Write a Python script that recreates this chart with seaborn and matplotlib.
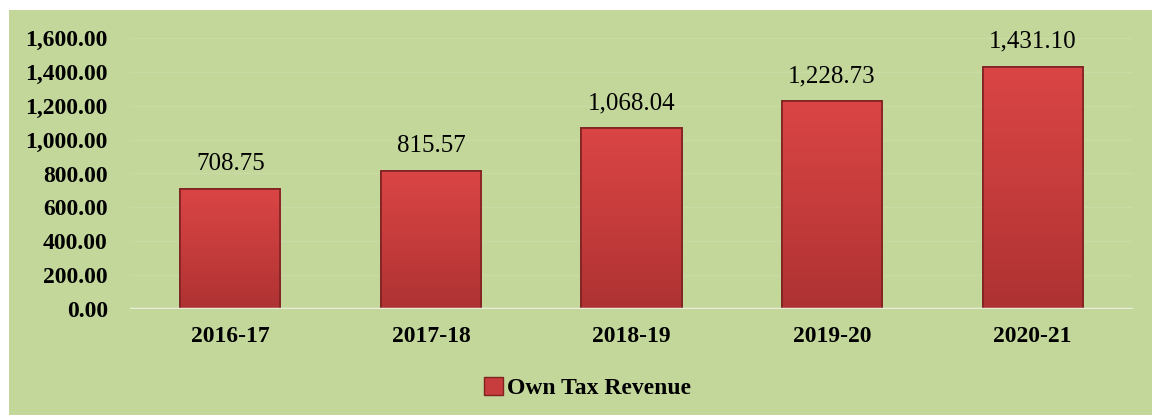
import matplotlib
matplotlib.use('Agg')
import matplotlib.pyplot as plt
import matplotlib.patches as mpatches
import numpy as np
import pandas as pd
import seaborn as sns
from matplotlib.colors import LinearSegmentedColormap

years = ['2016-17', '2017-18', '2018-19', '2019-20', '2020-21']
own_tax_revenue = [708.75, 815.57, 1068.04, 1228.73, 1431.10]
y_ticks = [0, 200, 400, 600, 800, 1000, 1200, 1400, 1600]

green = '#C4D79B'
bar_red = '#C73C3C'

sns.set_style('white')
plt.rcParams['font.family'] = ['Liberation Serif', 'DejaVu Serif']
plt.rcParams['text.color'] = 'black'
plt.rcParams['xtick.color'] = 'black'
plt.rcParams['ytick.color'] = 'black'

df = pd.DataFrame({'year': years, 'value': own_tax_revenue})

fig = plt.figure(figsize=(11.52, 4.15), dpi=100, facecolor='white')
# green chart area under a thin white strip at the top
fig.patches.append(mpatches.Rectangle((9 / 1152, 0), 1, 405 / 415, transform=fig.transFigure,
                                      facecolor=green, edgecolor='none', zorder=-10))
ax = fig.add_axes([130 / 1152, 106 / 415, 1003 / 1152, 271 / 415])
ax.set_facecolor('none')

sns.barplot(data=df, x='year', y='value', color=bar_red, width=0.5, saturation=1,
            edgecolor='#7E2222', linewidth=1.2, ax=ax, zorder=2)

# soft vertical shading on the bars, lighter at the top
shade = LinearSegmentedColormap.from_list('shade', ['#AE3232', '#C63C3C', '#DA4545'])
grad = np.linspace(0, 1, 256).reshape(-1, 1)
for bar in ax.patches:
    x0, y0 = bar.get_x(), bar.get_y()
    w, h = bar.get_width(), bar.get_height()
    im = ax.imshow(grad, cmap=shade, origin='lower', aspect='auto',
                   extent=(x0, x0 + w, y0, y0 + h), zorder=2.5)
    im.set_clip_path(bar)
    ax.add_patch(mpatches.Rectangle((x0, y0), w, h, facecolor='none',
                                    edgecolor='#7E2222', linewidth=1.2, zorder=2.6))

ax.set_xlim(-0.5, 4.5)
ax.set_ylim(0, 1600)
ax.set_yticks(y_ticks)
ax.set_yticklabels([f'{v:,.2f}' for v in y_ticks], fontsize=17, fontweight='bold')
ax.set_xticks(range(len(years)))
ax.set_xticklabels(years, fontsize=17, fontweight='bold')
ax.tick_params(axis='y', length=0, pad=16)
ax.tick_params(axis='x', length=0, pad=12)
ax.set_xlabel('')
ax.set_ylabel('')

for v in y_ticks[1:]:
    ax.axhline(v, color='#C9DAA3', linewidth=1, zorder=0)
ax.axhline(0, color='#E8EDDA', linewidth=2.5, zorder=3)

for s in ax.spines.values():
    s.set_visible(False)

for i, v in enumerate(own_tax_revenue):
    ax.annotate(f'{v:,.2f}', (i, v), xytext=(0, 10), textcoords='offset points',
                ha='center', va='bottom', fontsize=18)

handle = mpatches.Patch(facecolor=bar_red, edgecolor='#7E2222', label='Own Tax Revenue')
fig.legend(handles=[handle], loc='center', bbox_to_anchor=(0.51, 27 / 415), frameon=False,
           prop={'size': 17, 'weight': 'bold'}, handlelength=0.8, handleheight=0.8,
           handletextpad=0.2)

fig.savefig('out.png', dpi=100, facecolor='white')
